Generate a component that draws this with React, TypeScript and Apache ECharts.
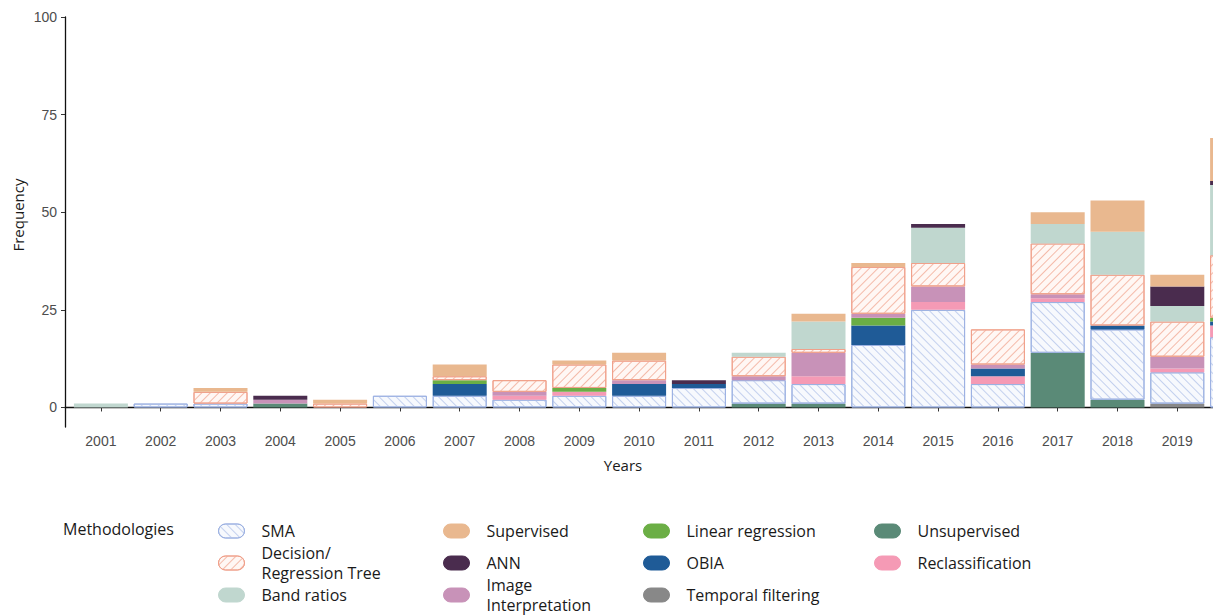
import React, { useEffect, useRef } from "react";
import * as echarts from "echarts";

const years = ["2001", "2002", "2003", "2004", "2005", "2006", "2007", "2008", "2009", "2010", "2011", "2012", "2013", "2014", "2015", "2016", "2017", "2018", "2019", "2020"];
const yTicks = [0, 25, 50, 75, 100];

// stacked bottom -> top
const temporalFiltering = [0, 0, 0, 0, 0, 0, 0, 0, 0, 0, 0, 0, 0, 0, 0, 0, 0, 0, 1, 0];
const unsupervised = [0, 0, 0, 1, 0, 0, 0, 0, 0, 0, 0, 1, 1, 0, 0, 0, 14, 2, 0, 0];
const sma = [0, 1, 1, 0, 0, 3, 3, 2, 3, 3, 5, 6, 5, 16, 25, 6, 13, 18, 8, 18];
const reclassification = [0, 0, 0, 0, 0, 0, 0, 1, 1, 0, 0, 0, 2, 0, 2, 2, 1, 0, 1, 3];
const obia = [0, 0, 0, 0, 0, 0, 3, 0, 0, 3, 1, 0, 0, 5, 0, 2, 0, 1, 0, 1];
const linearRegression = [0, 0, 0, 0, 0, 0, 1, 0, 1, 0, 0, 0, 0, 2, 0, 0, 0, 0, 0, 1];
const imageInterpretation = [0, 0, 0, 1, 0, 0, 0, 1, 0, 1, 0, 1, 6, 1, 4, 1, 1, 0, 3, 0];
const decisionTree = [0, 0, 3, 0, 1, 0, 1, 3, 6, 5, 0, 5, 1, 12, 6, 9, 13, 13, 9, 16];
const bandRatios = [1, 0, 0, 0, 0, 0, 0, 0, 0, 0, 0, 1, 7, 0, 9, 0, 5, 11, 4, 18];
const ann = [0, 0, 0, 1, 0, 0, 0, 0, 0, 0, 1, 0, 0, 0, 1, 0, 0, 0, 5, 1];
const supervised = [0, 0, 1, 0, 1, 0, 3, 0, 1, 2, 0, 0, 2, 1, 0, 0, 3, 8, 3, 11];

const legendColumns = [
  ["SMA", "Decision/Regression Tree", "Band ratios"],
  ["Supervised", "ANN", "Image Interpretation"],
  ["Linear regression", "OBIA", "Temporal filtering"],
  ["Unsupervised", "Reclassification"],
];
const legendLabels: Record<string, string> = {
  "Decision/Regression Tree": "Decision/\nRegression Tree",
  "Image Interpretation": "Image\nInterpretation",
};

export default function App() {
  const ref = useRef<HTMLDivElement>(null);
  useEffect(() => {
    if (!ref.current) return;
    const chart = echarts.init(ref.current, null, { renderer: "svg" });
    const FONT = "Open Sans";
    const toData = (arr: number[]) => arr.map((v) => (v === 0 ? "-" : v));

    const base = { type: "bar", stack: "all", barWidth: 54, xAxisIndex: 1, yAxisIndex: 1 };
    const solid = (name: string, data: number[], color: string) => ({
      ...base,
      name,
      data: toData(data),
      itemStyle: { color, borderColor: color, borderWidth: 0 },
    });
    const hatched = (name: string, data: number[], fill: string, line: string, border: string, rot: number) => ({
      ...base,
      name,
      data: toData(data),
      itemStyle: {
        color: fill,
        borderColor: border,
        borderWidth: 1,
        decal: {
          symbol: "rect",
          symbolSize: 1,
          color: line,
          dashArrayX: [1, 0],
          dashArrayY: [1, 4.5],
          rotation: rot,
        },
      },
    });

    const series = [
      solid("Temporal filtering", temporalFiltering, "#888888"),
      solid("Unsupervised", unsupervised, "#5a8a77"),
      hatched("SMA", sma, "#f7f9fd", "#c3d0ee", "#9cb1e2", Math.PI / 4),
      solid("Reclassification", reclassification, "#f59ab5"),
      solid("OBIA", obia, "#1f5b97"),
      solid("Linear regression", linearRegression, "#6bae45"),
      solid("Image Interpretation", imageInterpretation, "#c892b8"),
      hatched("Decision/Regression Tree", decisionTree, "#fff7f4", "#f4baa9", "#f0a08a", -Math.PI / 4),
      solid("Band ratios", bandRatios, "#c0d7cf"),
      solid("ANN", ann, "#4a2c4e"),
      solid("Supervised", supervised, "#e9b88f"),
    ];

    const LH = 20;
    const colLefts = [218, 443, 643, 874];
    const rowCenters = [531, 563, 595];
    const legends: any[] = [];
    legendColumns.forEach((col, c) => {
      col.forEach((name, r) => {
        const lines = (legendLabels[name] || name).split("\n").length;
        const top = rowCenters[r] - 7 + Math.min(0, 7 - (LH / 2) * lines);
        legends.push({
          data: [name],
          left: colLefts[c],
          top,
          padding: 0,
          selectedMode: false,
          itemWidth: 26,
          itemHeight: 14,
          icon: "path://M7 0H19A7 7 0 0 1 19 14H7A7 7 0 0 1 7 0Z",
          itemStyle: { borderWidth: 1 },
          formatter: (n: string) => legendLabels[n] || n,
          textStyle: {
            fontFamily: FONT,
            fontSize: 16,
            lineHeight: LH,
            color: "#1a1a1a",
            padding: [0, 0, 0, 12],
          },
        });
      });
    });

    // step of one year on screen: 59.8px; ggplot pads 0.6 step at each side
    chart.setOption({
      animation: false,
      backgroundColor: "#ffffff",
      grid: [
        { left: 65, top: 17, width: 1208, height: 410 },
        { left: 71, top: 17, width: 1196, height: 410 },
      ],
      xAxis: [
        {
          gridIndex: 0,
          type: "value",
          min: 0,
          max: 1,
          axisLine: { show: true, lineStyle: { color: "#111", width: 1.3 } },
          axisTick: { show: false },
          axisLabel: { show: false },
          splitLine: { show: false },
        },
        {
          gridIndex: 1,
          type: "category",
          data: years,
          axisLine: { show: false },
          axisTick: { show: true, alignWithLabel: true, length: 4, lineStyle: { color: "#333" } },
          axisLabel: {
            color: "#4d4d4d",
            fontFamily: "Liberation Sans",
            fontSize: 14,
            margin: 7,
            formatter: (v: string, i: number) => (i < years.length - 1 ? v : ""),
          },
          splitLine: { show: false },
        },
      ],
      yAxis: [
        {
          gridIndex: 0,
          type: "value",
          min: -5,
          max: 100,
          axisLine: { show: true, lineStyle: { color: "#111", width: 1.3 } },
          axisTick: { show: true, customValues: yTicks, length: 4, lineStyle: { color: "#333" } },
          axisLabel: {
            customValues: yTicks,
            color: "#4d4d4d",
            fontFamily: "Liberation Sans",
            fontSize: 14,
            margin: 8,
          },
          splitLine: { show: false },
        },
        {
          gridIndex: 1,
          type: "value",
          min: -5,
          max: 100,
          show: false,
          splitLine: { show: false },
        },
      ],
      legend: legends,
      series,
      graphic: [
        {
          type: "text",
          left: 63,
          top: 521,
          style: { text: "Methodologies", font: `16px '${FONT}'`, fill: "#1a1a1a" },
        },
        {
          type: "text",
          x: 623,
          y: 465,
          style: { text: "Years", font: `15px '${FONT}'`, fill: "#1a1a1a", align: "center", verticalAlign: "middle" },
        },
        {
          type: "text",
          x: 18,
          y: 215,
          rotation: Math.PI / 2,
          style: { text: "Frequency", font: `15px '${FONT}'`, fill: "#1a1a1a", align: "center", verticalAlign: "middle" },
        },
      ],
    });
    return () => chart.dispose();
  }, []);

  return (
    <div style={{ position: "fixed", left: 0, top: 0, width: 1213, height: 616, overflow: "hidden", background: "#fff" }}>
      <div ref={ref} style={{ width: 1300, height: 616 }} />
    </div>
  );
}
